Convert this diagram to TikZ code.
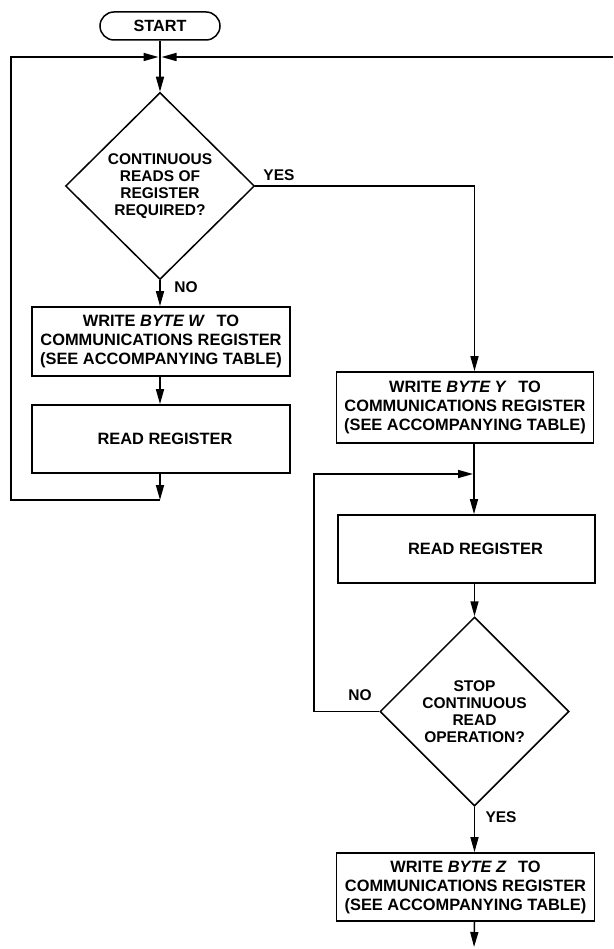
\documentclass[tikz,border=0pt]{standalone}
\usepackage{fontspec}
\setmainfont{Liberation Sans}
\usetikzlibrary{shapes.geometric,arrows.meta}

\newcommand{\byteto}[1]{WRITE \textit{BYTE #1}\hspace{7pt} TO}

\begin{document}
\begin{tikzpicture}[
  x=1pt, y=-1pt,
  node distance=100pt,
  font=\bfseries\fontsize{15.5}{18.5}\selectfont,
  termnode/.style={rectangle, rounded corners=14pt, draw=black, line width=1.5pt, minimum width=120pt, minimum height=28pt, inner sep=0pt, font=\bfseries\fontsize{16.2}{19}\selectfont},
  decnode/.style={diamond, draw=black, line width=1.5pt, minimum width=189pt, minimum height=187pt, inner sep=0pt, align=center, font=\bfseries\fontsize{15.5}{17}\selectfont},
  boxnode/.style={rectangle, draw=black, line width=1.7pt, minimum width=258pt, minimum height=69pt, inner sep=0pt, align=center, font=\bfseries\fontsize{16.4}{19}\selectfont},
  lbl/.style={inner sep=0pt},
  arrow/.style={-{Triangle[length=15pt, width=8pt]}, line width=1.5pt},
  wire/.style={line width=1.5pt}
]
\useasboundingbox (0,0) rectangle (613,949);

% Left column
\node[termnode] (start) at (160,26) {START};
\node[decnode, below of=start, node distance=160pt] (dec1) {CONTINUOUS\\READS OF\\REGISTER\\REQUIRED?};
\node[boxnode, below of=dec1, node distance=155.5pt, xshift=1pt] (writeW) {\byteto{W}\\COMMUNICATIONS REGISTER\\(SEE ACCOMPANYING TABLE)};
\node[boxnode, below of=writeW, node distance=97.5pt, minimum height=68pt] (readW) {\hspace{8pt}READ REGISTER};

% Right column
\node[boxnode, minimum width=257pt, minimum height=71pt] (writeY) at (465,407.5) {\byteto{Y}\\COMMUNICATIONS REGISTER\\(SEE ACCOMPANYING TABLE)};
\node[boxnode, below of=writeY, node distance=141.5pt, xshift=1.5pt, minimum width=257pt, minimum height=68pt] (readY) {\hspace{18pt}READ REGISTER};
\node[decnode, below of=readY, node distance=162.5pt, xshift=8pt, minimum height=189pt] (dec2) {STOP\\CONTINUOUS\\READ\\OPERATION?};
\node[boxnode, below of=dec2, node distance=175.5pt, xshift=-9pt, minimum height=68pt] (writeZ) {\byteto{Z}\\COMMUNICATIONS REGISTER\\(SEE ACCOMPANYING TABLE)};

% Branch labels
\node[lbl] (yes1) at (279,175) {YES};
\node[lbl] (no1) at (186,287) {NO};
\node[lbl] (no2) at (360,695) {NO};
\node[lbl] (yes2) at (501,817) {YES};

% Junctions
\coordinate (joinTop) at (160,57);
\coordinate (topL) at (11,57);
\coordinate (topR) at (613,57);
\coordinate (joinW) at (160,500);
\coordinate (joinY) at (474,474);
\coordinate (loopY) at (314,474);
\coordinate (endZ) at (474,949);

% Left flow
\draw[arrow] (start) -- (dec1.north);
\draw[arrow, shorten >=1.5pt] (topR) -- (joinTop);
\draw[arrow] (dec1.south) -- (writeW.north -| dec1.south);
\draw[arrow] (writeW.south -| dec1.south) -- (readW.north -| dec1.south);
\draw[arrow] (readW.south -| joinW) -- (joinW);
\draw[arrow, shorten >=1.5pt] (joinW) -| (topL) -- (joinTop);

% Right flow
\draw[arrow] (dec1.east) -| (writeY.north -| dec2.north);
\draw[arrow] (writeY.south -| joinY) -- (readY.north -| joinY);
\draw[arrow, shorten >=1pt] (dec2.west) -| (loopY) -- (joinY);
\draw[arrow] (readY.south -| dec2.north) -- (dec2.north);
\draw[arrow] (dec2.south) -- (writeZ.north -| dec2.south);
\draw[arrow, shorten >=2pt] (writeZ.south -| dec2.south) -- (endZ);

\end{tikzpicture}
\end{document}
